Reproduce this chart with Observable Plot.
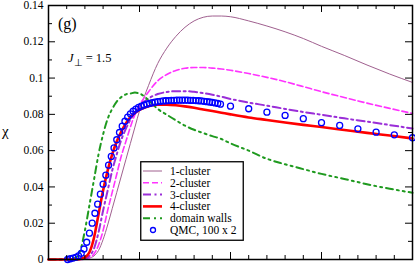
<!DOCTYPE html>
<html><head><meta charset="utf-8">
<script src="https://cdn.jsdelivr.net/npm/d3@7"></script>
<script src="https://cdn.jsdelivr.net/npm/@observablehq/plot@0.6"></script>
<style>
body{margin:0;background:#fff;}
#wrap{position:relative;width:415px;height:268px;font-family:"Liberation Serif",serif;color:#000;}
#wrap svg, #wrap svg text{font-family:"Liberation Serif",serif !important;}
.ann{position:absolute;white-space:nowrap;line-height:1;}
</style></head><body><div id="wrap"></div>
<script>
// temperature grid for the model curves (x axis, no tick labels shown)
const T = [0, 0.2, 0.3, 0.35, 0.4, 0.45, 0.5, 0.55, 0.6, 0.65, 0.7, 0.75, 0.8, 0.85, 0.9, 0.95, 1.0, 1.1, 1.2, 1.3, 1.4, 1.5, 1.6, 1.7, 1.8, 1.9, 2.0, 2.2, 2.4, 2.6, 2.8, 3.0, 3.25, 3.5, 3.75, 4.0];
const cluster1 = [0, 0, 0, 0.0001, 0.0003, 0.0008, 0.002, 0.005, 0.011, 0.019, 0.028, 0.037, 0.046, 0.055, 0.064, 0.073, 0.082, 0.096, 0.108, 0.1165, 0.1230, 0.128, 0.1315, 0.1335, 0.1342, 0.1342, 0.1338, 0.1315, 0.1287, 0.1255, 0.1218, 0.1175, 0.1125, 0.1072, 0.1022, 0.0976];
const cluster2 = [0, 0, 0, 0, 0.0002, 0.001, 0.003, 0.008, 0.016, 0.027, 0.037, 0.047, 0.057, 0.065, 0.073, 0.080, 0.085, 0.0925, 0.0985, 0.1020, 0.1042, 0.1054, 0.1058, 0.1058, 0.1055, 0.1050, 0.1043, 0.1025, 0.1004, 0.0980, 0.0953, 0.0925, 0.0893, 0.0862, 0.0833, 0.0805];
const cluster3 = [0, 0, 0, 0, 0.0004, 0.002, 0.006, 0.015, 0.027, 0.038, 0.049, 0.058, 0.066, 0.072, 0.077, 0.081, 0.0845, 0.0888, 0.0912, 0.0923, 0.0928, 0.0928, 0.0924, 0.0917, 0.0908, 0.0897, 0.0885, 0.0865, 0.0848, 0.0830, 0.0813, 0.0798, 0.0778, 0.0760, 0.0741, 0.0722];
const cluster4 = [0, 0, 0.0001, 0.0003, 0.0012, 0.004, 0.012, 0.025, 0.038, 0.049, 0.058, 0.065, 0.0705, 0.075, 0.0785, 0.0808, 0.0825, 0.0845, 0.0853, 0.0853, 0.0850, 0.0844, 0.0836, 0.0827, 0.0818, 0.0809, 0.0800, 0.0783, 0.0769, 0.0755, 0.0742, 0.0730, 0.0714, 0.0698, 0.0683, 0.0667];
const domainWalls = [0, 0, 0.001, 0.005, 0.016, 0.030, 0.044, 0.058, 0.069, 0.0775, 0.083, 0.087, 0.0895, 0.091, 0.0915, 0.092, 0.0915, 0.0878, 0.0830, 0.0798, 0.0767, 0.0738, 0.0715, 0.0697, 0.0680, 0.0664, 0.0640, 0.0600, 0.0555, 0.0525, 0.0498, 0.0472, 0.0444, 0.0415, 0.0390, 0.0368];

// QMC, 100 x 2 data points
const qmcT = [0.21, 0.24, 0.27, 0.30, 0.33, 0.36, 0.39, 0.42, 0.45, 0.48, 0.51, 0.54, 0.57, 0.60, 0.63, 0.66, 0.69, 0.72, 0.75, 0.78, 0.81, 0.84, 0.87, 0.90, 0.93, 0.96, 0.99, 1.02, 1.05, 1.08, 1.11, 1.14, 1.17, 1.20, 1.23, 1.26, 1.29, 1.32, 1.35, 1.38, 1.41, 1.44, 1.47, 1.50, 1.53, 1.56, 1.59, 1.62, 1.65, 1.68, 1.71, 1.74, 1.77, 1.80, 1.83, 1.86, 1.89, 2.0, 2.2, 2.4, 2.6, 2.8, 3.0, 3.2, 3.4, 3.6, 3.8, 4.0];
const qmcChi = [0.0000, 0.0004, 0.0008, 0.0012, 0.0020, 0.0034, 0.0058, 0.0095, 0.0145, 0.0200, 0.0255, 0.0305, 0.0360, 0.0415, 0.0465, 0.0520, 0.0568, 0.0615, 0.0660, 0.0700, 0.0735, 0.0762, 0.0785, 0.0803, 0.0817, 0.0829, 0.0838, 0.0845, 0.0851, 0.0856, 0.0860, 0.0864, 0.0867, 0.0870, 0.0872, 0.0874, 0.0875, 0.0876, 0.0877, 0.0877, 0.0878, 0.0878, 0.0878, 0.0878, 0.0878, 0.0877, 0.0877, 0.0876, 0.0875, 0.0874, 0.0872, 0.0870, 0.0868, 0.0866, 0.0863, 0.0860, 0.0856, 0.0845, 0.0831, 0.0812, 0.0794, 0.0776, 0.0754, 0.0739, 0.0720, 0.0702, 0.0687, 0.0671];

const seriesNames = ["1-cluster", "2-cluster", "3-cluster", "4-cluster", "domain walls", "QMC, 100 x 2"];
const yMajor = [0, 0.02, 0.04, 0.06, 0.08, 0.10, 0.12, 0.14];
const yMinor = [0.01, 0.03, 0.05, 0.07, 0.09, 0.11, 0.13];
const xMajor = [0, 1, 2, 3, 4];
const xMinor = [0.2, 0.4, 0.6, 0.8, 1.2, 1.4, 1.6, 1.8, 2.2, 2.4, 2.6, 2.8, 3.2, 3.4, 3.6, 3.8];

const styles = [
  {stroke: "#a0608f", strokeWidth: 1},
  {stroke: "#ff33ff", strokeWidth: 1.6, strokeDasharray: "6,3"},
  {stroke: "#9a2ed8", strokeWidth: 2, strokeDasharray: "8,3.5,2,3.5"},
  {stroke: "#ff0000", strokeWidth: 2.6},
  {stroke: "#1f9a1f", strokeWidth: 2, strokeDasharray: "7,4,2,4,2,4"}
];
const curves = [cluster1, cluster2, cluster3, cluster4, domainWalls];
const qmc = qmcT.map((t, i) => ({T: t, chi: qmcChi[i]}));

const W = 415, H = 268, mL = 48, mR = 3, mT = 5, mB = 9;
const fw = W - mL - mR, fh = H - mT - mB;
const serif = "'Liberation Serif', serif";

const marks = [];
[0, 1, 2, 4, 3].forEach(k => {
  marks.push(Plot.line(T.map((t, i) => ({T: t, chi: curves[k][i]})), {x: "T", y: "chi", curve: "monotone-x", ...styles[k]}));
});
marks.push(Plot.dot(qmc, {x: "T", y: "chi", r: 3, stroke: "#0000ff", strokeWidth: 1.3, fill: "none"}));
marks.push(
  Plot.tickY(yMajor, {y: d => d, insetRight: fw - 7, stroke: "#000"}),
  Plot.tickY(yMajor, {y: d => d, insetLeft: fw - 7, stroke: "#000"}),
  Plot.tickY(yMinor, {y: d => d, insetRight: fw - 4, stroke: "#000"}),
  Plot.tickY(yMinor, {y: d => d, insetLeft: fw - 4, stroke: "#000"}),
  Plot.tickX(xMajor, {x: d => d, insetTop: fh - 7, stroke: "#000"}),
  Plot.tickX(xMajor, {x: d => d, insetBottom: fh - 7, stroke: "#000"}),
  Plot.tickX(xMinor, {x: d => d, insetTop: fh - 4, stroke: "#000"}),
  Plot.tickX(xMinor, {x: d => d, insetBottom: fh - 4, stroke: "#000"}),
  Plot.axisY(yMajor, {tickSize: 0, tickPadding: 5, tickFormat: d => String(+d.toFixed(2)), fontSize: 11.5, label: null}),
  Plot.frame({stroke: "#000", strokeWidth: 1.5})
);

const chart = Plot.plot({
  width: W, height: H,
  marginLeft: mL, marginRight: mR, marginTop: mT, marginBottom: mB,
  x: {domain: [0, 4], axis: null},
  y: {domain: [0, 0.14], axis: null},
  style: {fontFamily: serif, fontSize: "12px", color: "#000", background: "#fff", overflow: "visible"},
  marks
});
const wrap = document.getElementById("wrap");
wrap.appendChild(chart);

function ann(html, left, top, size) {
  const d = document.createElement("div");
  d.className = "ann";
  d.innerHTML = html;
  d.style.left = left + "px"; d.style.top = top + "px"; d.style.fontSize = size + "px";
  wrap.appendChild(d);
}
ann("(g)", 58, 16, 16);
ann("<i>J</i><span style='font-size:10px;position:relative;top:4px'>⊥</span> = 1.5", 68, 52, 12.5);
ann("χ", 2, 124, 15);

const lg = d3.select(wrap).append("svg")
  .style("position", "absolute").style("left", "140px").style("top", "161px")
  .attr("width", 104).attr("height", 80);
lg.append("rect").attr("x", 0.75).attr("y", 0.75).attr("width", 102.5).attr("height", 78.5)
  .attr("fill", "#fff").attr("stroke", "#000").attr("stroke-width", 1.3);
seriesNames.forEach((name, i) => {
  const cy = 10 + i * 11.8;
  if (i < 5) {
    const s = styles[i];
    lg.append("line").attr("x1", 3).attr("x2", 22).attr("y1", cy).attr("y2", cy)
      .attr("stroke", s.stroke).attr("stroke-width", s.strokeWidth)
      .attr("stroke-dasharray", s.strokeDasharray || null);
  } else {
    lg.append("circle").attr("cx", 13).attr("cy", cy).attr("r", 2.5)
      .attr("fill", "none").attr("stroke", "#0000ff").attr("stroke-width", 1.3);
  }
  lg.append("text").attr("x", 30).attr("y", cy + 4).text(name)
    .attr("font-family", serif).attr("font-size", 11.5);
});
</script></body></html>
